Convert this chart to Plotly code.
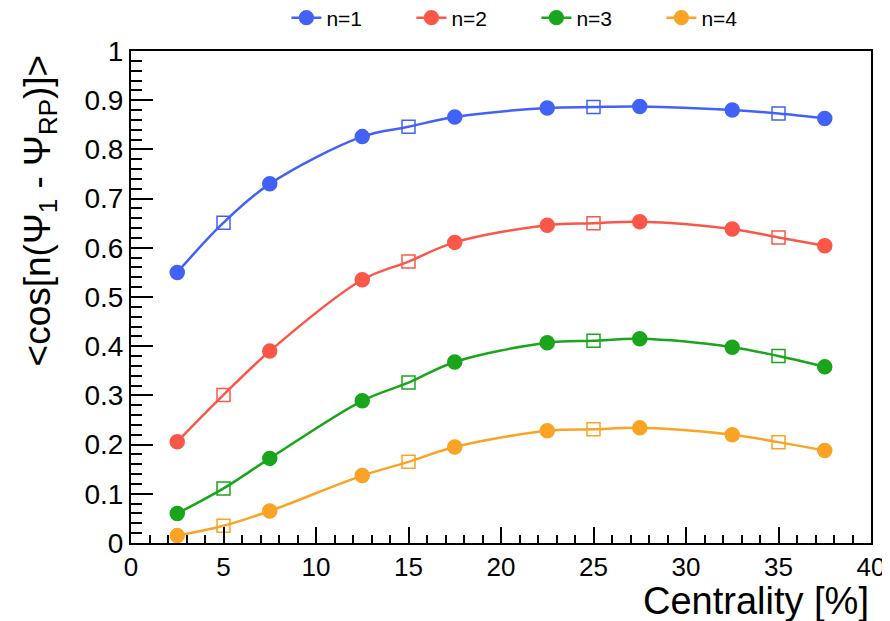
import plotly.graph_objects as go

centrality = [2.5, 5, 7.5, 12.5, 15, 17.5, 22.5, 25, 27.5, 32.5, 35, 37.5]
symbols = ["circle", "square-open", "circle", "circle", "square-open", "circle",
           "circle", "square-open", "circle", "circle", "square-open", "circle"]

n1 = [0.550, 0.651, 0.730, 0.826, 0.846, 0.866, 0.884, 0.886, 0.887, 0.880, 0.873, 0.863]
n2 = [0.206, 0.301, 0.390, 0.535, 0.572, 0.611, 0.646, 0.650, 0.653, 0.638, 0.621, 0.604]
n3 = [0.060, 0.111, 0.172, 0.289, 0.326, 0.368, 0.407, 0.411, 0.415, 0.398, 0.380, 0.358]
n4 = [0.015, 0.035, 0.065, 0.137, 0.165, 0.195, 0.228, 0.231, 0.234, 0.220, 0.205, 0.188]

series = [("n=1", n1, "#4262F7"), ("n=2", n2, "#FA5749"),
          ("n=3", n3, "#1AA51C"), ("n=4", n4, "#FBA324")]

fig = go.Figure()
for name, vals, col in series:
    fig.add_trace(go.Scatter(
        x=centrality, y=vals, name=name, mode="lines+markers",
        line=dict(color=col, width=2.5, shape="spline", smoothing=1.0),
        marker=dict(symbol=symbols, size=[14 if s == "circle" else 13 for s in symbols],
                    color=col, opacity=1, line=dict(color=col, width=1.5)),
    ))

FONT = "Liberation Sans, Arial, sans-serif"

# the page body adds an 8px offset, so margins are shifted accordingly
fig.update_layout(
    width=890, height=621,
    margin=dict(l=123, r=27, t=43, b=86, autoexpand=False),
    paper_bgcolor="white", plot_bgcolor="white",
    font=dict(family=FONT, color="black"),
    showlegend=True,
    legend=dict(orientation="h", x=0.21, xanchor="left", y=1.067, yanchor="middle",
                font=dict(size=21, family=FONT), entrywidth=80, entrywidthmode="pixels",
                itemwidth=30, bgcolor="rgba(0,0,0,0)"),
    xaxis=dict(range=[0, 40], dtick=5, tick0=0, ticks="inside", ticklen=16, tickwidth=2,
               tickcolor="black", showline=True, linewidth=2, linecolor="black", mirror=True,
               showgrid=False, zeroline=False, automargin=False,
               tickfont=dict(size=26, family=FONT),
               minor=dict(dtick=1, ticks="inside", ticklen=8, tickwidth=1.5, tickcolor="black",
                          showgrid=False)),
    yaxis=dict(range=[0, 1], dtick=0.1, tick0=0, ticks="inside", ticklen=22, tickwidth=2,
               tickcolor="black", showline=True, linewidth=2, linecolor="black", mirror=True,
               showgrid=False, zeroline=False, automargin=False,
               tickfont=dict(size=28, family=FONT),
               minor=dict(dtick=0.02, ticks="inside", ticklen=11, tickwidth=1.5, tickcolor="black",
                          showgrid=False)),
    annotations=[
        dict(text="<cos[n(Ψ<sub>1</sub> - Ψ<sub>RP</sub>)]>", textangle=-90,
             xref="paper", yref="paper", x=-0.123, y=0.997, xanchor="center", yanchor="top",
             showarrow=False, font=dict(size=37, family=FONT)),
        dict(text="Centrality [%]", xref="paper", yref="paper", x=1.0, y=-0.071,
             xanchor="right", yanchor="top", showarrow=False,
             font=dict(size=38, family=FONT)),
    ],
)

fig.write_html("out.html")
